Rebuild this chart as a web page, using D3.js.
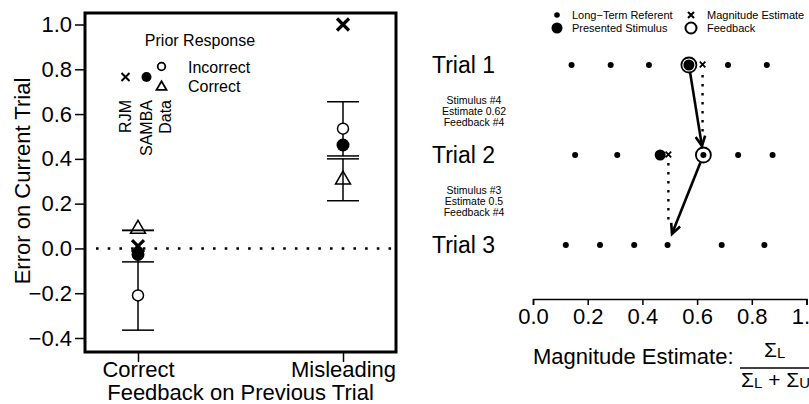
<!DOCTYPE html>
<html lang='en'>
<head>
  <meta charset='UTF-8'>
  <title>Feedback and magnitude estimates</title>
  <style>
    body { margin: 0; background: #fff; }
    svg { display: block; font-family: 'Liberation Sans', Arial, sans-serif; }
  </style>
</head>
<body>
<div id='chart'></div>
<script src='https://d3js.org/d3.v7.min.js'></script>
<script>
  // ---- left panel data ----
  var feedbackTypes = ['Correct', 'Misleading']
  var yTicks = [-0.4, -0.2, 0.0, 0.2, 0.4, 0.6, 0.8, 1.0]
  var dataIncorrect = [-0.21, 0.535]     // open circle
  var incorrectLo = [-0.365, 0.413]
  var incorrectHi = [-0.06, 0.655]
  var dataCorrect = [0.087, 0.307]       // open triangle
  var correctLo = [0.08, 0.213]
  var correctHi = [0.081, 0.40]
  var sambaPred = [-0.027, 0.462]        // filled circle
  var rjmPred = [0.01, 1.0]              // cross

  // ---- right panel data ----
  var trialNames = ['Trial 1', 'Trial 2', 'Trial 3']
  var referents = [
    [0.141, 0.284, 0.424, 0.570, 0.713, 0.855],
    [0.154, 0.308, 0.465, 0.623, 0.750, 0.876],
    [0.120, 0.245, 0.370, 0.492, 0.690, 0.846]
  ]
  var stimulus = [0.57, 0.465]
  var estimate = [0.62, 0.495]
  var feedback = [0.57, 0.623]
  var trialNotes = [
    ['Stimulus #4', 'Estimate 0.62', 'Feedback #4'],
    ['Stimulus #3', 'Estimate 0.5', 'Feedback #4']
  ]
  var xTicks = [0, 0.2, 0.4, 0.6, 0.8, 1.0]

  var width = 809, height = 404
  var svg = d3.select('#chart').append('svg')
    .attr('width', width)
    .attr('height', height)

  // marker helpers
  function crossPath (s) {
    return 'M' + (-s) + ',' + (-s) + 'L' + s + ',' + s + 'M' + (-s) + ',' + s + 'L' + s + ',' + (-s)
  }
  function triPath (a) {
    var h = a * 0.866
    return 'M0,' + (-h * 2 / 3) + 'L' + (a / 2) + ',' + (h / 3) + 'L' + (-a / 2) + ',' + (h / 3) + 'Z'
  }

  // =================== left panel ===================
  var box = {left: 85, right: 396, top: 13, bottom: 352}
  var x = d3.scalePoint().domain(feedbackTypes).range([138, 343])
  var y = d3.scaleLinear().domain([-0.4, 1.0]).range([338, 24.5])

  var left = svg.append('g')

  // y axis
  var yAxis = left.append('g')
    .attr('transform', 'translate(' + box.left + ',0)')
    .call(d3.axisLeft(y).tickValues(yTicks).tickSize(10).tickPadding(3).tickFormat(d3.format('.1f')))
  yAxis.select('.domain').remove()
  yAxis.selectAll('line').attr('stroke', '#000').attr('stroke-width', 1.5)
  yAxis.selectAll('text').style('font-size', '22px').attr('fill', '#000').attr('font-family', null)

  // x axis
  var xAxis = left.append('g')
    .attr('transform', 'translate(0,' + box.bottom + ')')
    .call(d3.axisBottom(x).tickSize(10).tickPadding(-1))
  xAxis.select('.domain').remove()
  xAxis.selectAll('line').attr('stroke', '#000').attr('stroke-width', 1.5)
  xAxis.selectAll('text').style('font-size', '22px').attr('fill', '#000').attr('font-family', null)

  // axis titles
  left.append('text')
    .attr('transform', 'translate(22,181) rotate(-90)')
    .attr('text-anchor', 'middle')
    .attr('dy', '0.35em')
    .style('font-size', '22px')
    .text('Error on Current Trial')
  left.append('text')
    .attr('x', (box.left + box.right) / 2)
    .attr('y', 400)
    .attr('text-anchor', 'middle')
    .style('font-size', '22px')
    .text('Feedback on Previous Trial')

  // zero line
  left.append('line')
    .attr('x1', 96).attr('x2', box.right - 3)
    .attr('y1', y(0)).attr('y2', y(0))
    .attr('stroke', '#000')
    .attr('stroke-width', 2.6)
    .attr('stroke-dasharray', '2.6,9.1')

  // error bars
  var bars = []
  feedbackTypes.forEach(function (f, i) {
    bars.push({cat: f, lo: incorrectLo[i], hi: incorrectHi[i]})
    bars.push({cat: f, lo: correctLo[i], hi: correctHi[i]})
  })
  var capW = 16
  bars.forEach(function (b) {
    var cx = x(b.cat)
    left.append('line')
      .attr('x1', cx).attr('x2', cx)
      .attr('y1', y(b.hi)).attr('y2', y(b.lo))
      .attr('stroke', '#000').attr('stroke-width', 1.5)
    ;[b.lo, b.hi].forEach(function (v) {
      left.append('line')
        .attr('x1', cx - capW).attr('x2', cx + capW)
        .attr('y1', y(v)).attr('y2', y(v))
        .attr('stroke', '#000').attr('stroke-width', 1.5)
    })
  })

  // data points
  left.selectAll('.tri').data(dataCorrect).enter().append('path')
    .attr('d', triPath(15))
    .attr('transform', function (d, i) { return 'translate(' + x(feedbackTypes[i]) + ',' + y(d) + ')' })
    .attr('fill', 'none').attr('stroke', '#000').attr('stroke-width', 1.5)
  left.selectAll('.oc').data(dataIncorrect).enter().append('circle')
    .attr('cx', function (d, i) { return x(feedbackTypes[i]) })
    .attr('cy', function (d) { return y(d) })
    .attr('r', 5.5)
    .attr('fill', '#fff').attr('stroke', '#000').attr('stroke-width', 1.5)
  left.selectAll('.rjm').data(rjmPred).enter().append('path')
    .attr('d', crossPath(6))
    .attr('transform', function (d, i) { return 'translate(' + x(feedbackTypes[i]) + ',' + y(d) + ')' })
    .attr('fill', 'none').attr('stroke', '#000').attr('stroke-width', 3.2)
  left.selectAll('.samba').data(sambaPred).enter().append('circle')
    .attr('cx', function (d, i) { return x(feedbackTypes[i]) })
    .attr('cy', function (d) { return y(d) })
    .attr('r', 6.5)
    .attr('fill', '#000')

  // legend
  left.append('text').attr('x', 200).attr('y', 46).attr('text-anchor', 'middle')
    .style('font-size', '16px').text('Prior Response')
  left.append('text').attr('x', 188).attr('y', 73).style('font-size', '16px').text('Incorrect')
  left.append('text').attr('x', 188).attr('y', 92).style('font-size', '16px').text('Correct')
  left.append('path').attr('d', crossPath(4)).attr('transform', 'translate(125.5,77)')
    .attr('stroke', '#000').attr('stroke-width', 2)
  left.append('circle').attr('cx', 146.5).attr('cy', 77).attr('r', 5).attr('fill', '#000')
  left.append('circle').attr('cx', 161.5).attr('cy', 66.5).attr('r', 3.8)
    .attr('fill', '#fff').attr('stroke', '#000').attr('stroke-width', 1.8)
  left.append('path').attr('d', triPath(10)).attr('transform', 'translate(161.5,87)')
    .attr('fill', '#fff').attr('stroke', '#000').attr('stroke-width', 1.8)
  var modelNames = [['RJM', 125.5], ['SAMBA', 146.5], ['Data', 165.5]]
  modelNames.forEach(function (m) {
    left.append('text')
      .attr('transform', 'translate(' + m[1] + ',100) rotate(-90)')
      .attr('text-anchor', 'end')
      .attr('dy', '0.35em')
      .style('font-size', '16px')
      .text(m[0])
  })

  // frame
  left.append('rect')
    .attr('x', box.left).attr('y', box.top)
    .attr('width', box.right - box.left).attr('height', box.bottom - box.top)
    .attr('fill', 'none').attr('stroke', '#000').attr('stroke-width', 3)

  // =================== right panel ===================
  var xr = d3.scaleLinear().domain([0, 1]).range([533, 806.5])
  var row = d3.scalePoint().domain(trialNames).range([65, 245])
  var right = svg.append('g')

  // axis
  var rAxis = right.append('g')
    .attr('transform', 'translate(0,299)')
    .call(d3.axisBottom(xr).tickValues(xTicks).tickSize(6).tickPadding(3).tickFormat(d3.format('.1f')))
  rAxis.selectAll('line').attr('stroke', '#000').attr('stroke-width', 1.5)
  rAxis.select('.domain').attr('stroke', '#000').attr('stroke-width', 1.5)
  rAxis.selectAll('text').style('font-size', '22px').attr('fill', '#000').attr('font-family', null)

  // axis title with fraction
  right.append('text').attr('x', 533).attr('y', 364).style('font-size', '22px').text('Magnitude Estimate:')
  right.append('line').attr('x1', 740).attr('x2', 812).attr('y1', 368).attr('y2', 368)
    .attr('stroke', '#000').attr('stroke-width', 1.5)
  var num = right.append('text').attr('x', 764).attr('y', 357).style('font-size', '21px')
  num.append('tspan').text('\u03A3')
  num.append('tspan').attr('dy', 1).style('font-size', '15px').text('L')
  var den = right.append('text').attr('x', 741).attr('y', 387).style('font-size', '21px')
  den.append('tspan').text('\u03A3')
  den.append('tspan').attr('dy', 1).style('font-size', '15px').text('L')
  den.append('tspan').attr('dy', -1).text(' + \u03A3')
  den.append('tspan').attr('dy', 1).style('font-size', '15px').text('U')

  // trial labels and notes
  right.selectAll('.trial').data(trialNames).enter().append('text')
    .attr('x', 432).attr('y', function (d) { return row(d) })
    .attr('dy', '0.35em')
    .style('font-size', '23px')
    .text(function (d) { return d })
  trialNotes.forEach(function (notes, i) {
    notes.forEach(function (t, j) {
      right.append('text')
        .attr('x', 474).attr('y', row(trialNames[i]) + 35 + j * 11.2)
        .attr('dy', '0.35em')
        .attr('text-anchor', 'middle')
        .style('font-size', '10.5px')
        .text(t)
    })
  })

  // dotted estimate lines
  var dotLines = [
    {x: estimate[0], y1: row(trialNames[0]) + 10, y2: row(trialNames[1]) - 22},
    {x: estimate[1], y1: row(trialNames[1]) + 8, y2: row(trialNames[2]) - 22}
  ]
  dotLines.forEach(function (d) {
    right.append('line')
      .attr('x1', xr(d.x)).attr('x2', xr(d.x))
      .attr('y1', d.y1).attr('y2', d.y2)
      .attr('stroke', '#000').attr('stroke-width', 2.4)
      .attr('stroke-dasharray', '2.4,6.6')
  })

  // referent dots
  referents.forEach(function (vals, i) {
    right.selectAll('.ref' + i).data(vals).enter().append('circle')
      .attr('cx', function (d) { return xr(d) })
      .attr('cy', row(trialNames[i]))
      .attr('r', 3)
      .attr('fill', '#000')
  })

  // feedback rings
  feedback.forEach(function (v, i) {
    right.append('circle')
      .attr('cx', xr(v)).attr('cy', row(trialNames[i]))
      .attr('r', 7.5)
      .attr('fill', '#fff').attr('stroke', '#000').attr('stroke-width', 1.8)
  })
  // small referent dot inside trial 2 feedback ring
  right.append('circle').attr('cx', xr(feedback[1])).attr('cy', row(trialNames[1])).attr('r', 3).attr('fill', '#000')

  // presented stimuli
  stimulus.forEach(function (v, i) {
    right.append('circle')
      .attr('cx', xr(v)).attr('cy', row(trialNames[i]))
      .attr('r', 5.5)
      .attr('fill', '#000')
  })

  // estimates
  estimate.forEach(function (v, i) {
    right.append('path')
      .attr('d', crossPath(2.8))
      .attr('transform', 'translate(' + xr(v) + ',' + (row(trialNames[i]) - 0.5) + ')')
      .attr('stroke', '#000').attr('stroke-width', 1.8)
  })

  // arrows
  var arrows = [
    {x1: feedback[0], r1: 0, x2: feedback[1], r2: 1, s: 7, e: 9},
    {x1: feedback[1], r1: 1, x2: referents[2][3], r2: 2, s: 8, e: 12}
  ]
  arrows.forEach(function (a) {
    var p1 = [xr(a.x1), row(trialNames[a.r1])]
    var p2 = [xr(a.x2), row(trialNames[a.r2])]
    var dx = p2[0] - p1[0], dy = p2[1] - p1[1]
    var len = Math.sqrt(dx * dx + dy * dy)
    var ux = dx / len, uy = dy / len
    var sx = p1[0] + ux * a.s, sy = p1[1] + uy * a.s
    var tx = p2[0] - ux * a.e, ty = p2[1] - uy * a.e
    right.append('line')
      .attr('x1', sx).attr('y1', sy).attr('x2', tx).attr('y2', ty)
      .attr('stroke', '#000').attr('stroke-width', 2.6)
    var ang = Math.atan2(uy, ux), hl = 11, ha = 0.45
    var h1 = [tx - hl * Math.cos(ang - ha), ty - hl * Math.sin(ang - ha)]
    var h2 = [tx - hl * Math.cos(ang + ha), ty - hl * Math.sin(ang + ha)]
    right.append('path')
      .attr('d', 'M' + h1 + 'L' + tx + ',' + ty + 'L' + h2)
      .attr('fill', 'none').attr('stroke', '#000').attr('stroke-width', 2.6)
  })

  // legend
  right.append('circle').attr('cx', 557).attr('cy', 15).attr('r', 2.8).attr('fill', '#000')
  right.append('circle').attr('cx', 557).attr('cy', 28).attr('r', 5.5).attr('fill', '#000')
  right.append('path').attr('d', crossPath(3)).attr('transform', 'translate(691,15)')
    .attr('stroke', '#000').attr('stroke-width', 2)
  right.append('circle').attr('cx', 691).attr('cy', 28).attr('r', 5.5)
    .attr('fill', '#fff').attr('stroke', '#000').attr('stroke-width', 2)
  var legendText = [['Long\u2212Term Referent', 572, 15], ['Presented Stimulus', 572, 28],
    ['Magnitude Estimate', 707, 15], ['Feedback', 707, 28]]
  legendText.forEach(function (t) {
    right.append('text').attr('x', t[1]).attr('y', t[2]).attr('dy', '0.35em')
      .style('font-size', '11px').text(t[0])
  })
</script>
</body>
</html>
